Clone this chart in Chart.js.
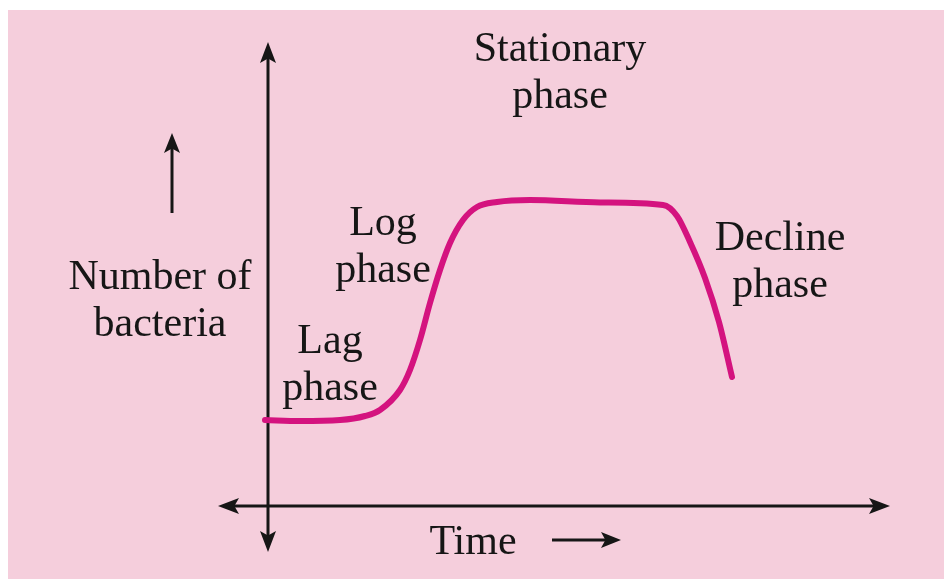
<!DOCTYPE html>
<html>
<head>
<meta charset="utf-8">
<script src="https://cdn.jsdelivr.net/npm/chart.js@4.4.1/dist/chart.umd.min.js"></script>
<style>
  html, body { margin: 0; padding: 0; background: #ffffff; }
  #wrap { width: 944px; height: 579px; position: relative; }
  canvas { display: block; }
</style>
</head>
<body>
<div id="wrap"><canvas id="c" width="944" height="579"></canvas></div>
<script>
// ---- Data (arbitrary units: time vs. number of bacteria) ----
const timeValues = [-0.3, 3.2, 7.2, 9.7, 11.2, 13.2, 14.2, 15.2, 16.2, 17.2, 18.2, 19.5, 20.9, 22.9, 26.2, 33.2, 39.5, 40.9, 42.2, 43.7, 45.1, 46.4];
const bacteriaValues = [8.6, 8.5, 8.6, 9.0, 9.6, 11.6, 13.6, 16.6, 20.3, 23.6, 26.3, 28.6, 29.9, 30.4, 30.6, 30.35, 30.1, 29.0, 26.4, 22.8, 18.4, 12.9];
const phaseLabels = [["Stationary", "phase"], ["Log", "phase"], ["Lag", "phase"], ["Decline", "phase"]];
const axisTitleY = ["Number of", "bacteria"];
const axisTitleX = "Time";

// ---- Layout (pixel positions for annotation text) ----
const phasePos = [[560, 50], [383, 224], [330, 342], [780, 239]];
const yTitlePos = [160, 278];
const xTitlePos = [473, 543];
const LINE_GAP = 47;
const FONT = '42px "Liberation Serif", "DejaVu Serif", serif';
const INK = '#161616';

const points = timeValues.map((t, i) => ({ x: t, y: bacteriaValues[i] }));

function arrowHead(ctx, tipX, tipY, dx, dy, len, half) {
  const bx = tipX - dx * len, by = tipY - dy * len;
  const nx = -dy, ny = dx;
  const mx = tipX - dx * len * 0.78, my = tipY - dy * len * 0.78;
  ctx.beginPath();
  ctx.moveTo(tipX, tipY);
  ctx.lineTo(bx + nx * half, by + ny * half);
  ctx.lineTo(mx, my);
  ctx.lineTo(bx - nx * half, by - ny * half);
  ctx.closePath();
  ctx.fill();
}

const decor = {
  id: 'decor',
  beforeDraw(chart) {
    const ctx = chart.ctx;
    ctx.save();
    ctx.fillStyle = '#ffffff';
    ctx.fillRect(0, 0, chart.width, chart.height);
    ctx.fillStyle = '#f5cedc';
    ctx.fillRect(8, 10, chart.width - 8, chart.height - 10);
    ctx.restore();

    const xs = chart.scales.x, ys = chart.scales.y;
    const ox = xs.getPixelForValue(0), oy = ys.getPixelForValue(0);
    ctx.save();
    ctx.strokeStyle = INK; ctx.fillStyle = INK; ctx.lineWidth = 3;
    // vertical axis
    ctx.beginPath(); ctx.moveTo(ox, 56); ctx.lineTo(ox, 538); ctx.stroke();
    arrowHead(ctx, ox, 42, 0, -1, 21, 8);
    arrowHead(ctx, ox, 552, 0, 1, 21, 8);
    // horizontal axis
    ctx.beginPath(); ctx.moveTo(232, oy); ctx.lineTo(876, oy); ctx.stroke();
    arrowHead(ctx, 218, oy, -1, 0, 21, 8);
    arrowHead(ctx, 890, oy, 1, 0, 21, 8);
    // small direction arrows
    ctx.beginPath(); ctx.moveTo(172, 213); ctx.lineTo(172, 146); ctx.stroke();
    arrowHead(ctx, 172, 133, 0, -1, 20, 8);
    ctx.beginPath(); ctx.moveTo(552, 540); ctx.lineTo(608, 540); ctx.stroke();
    arrowHead(ctx, 621, 540, 1, 0, 20, 8);
    ctx.restore();
  },
  afterDraw(chart) {
    const ctx = chart.ctx;
    ctx.save();
    ctx.fillStyle = INK;
    ctx.font = FONT;
    ctx.textAlign = 'center';
    ctx.textBaseline = 'middle';
    phaseLabels.forEach((lines, i) => {
      lines.forEach((s, j) => ctx.fillText(s, phasePos[i][0], phasePos[i][1] + j * LINE_GAP));
    });
    axisTitleY.forEach((s, j) => ctx.fillText(s, yTitlePos[0], yTitlePos[1] + j * LINE_GAP));
    ctx.fillText(axisTitleX, xTitlePos[0], xTitlePos[1]);
    ctx.restore();
  }
};

new Chart(document.getElementById('c'), {
  type: 'line',
  data: {
    datasets: [{
      data: points,
      borderColor: '#d4137f',
      borderWidth: 6,
      borderCapStyle: 'round',
      borderJoinStyle: 'round',
      pointRadius: 0,
      cubicInterpolationMode: 'monotone',
      fill: false
    }]
  },
  options: {
    responsive: false,
    animation: false,
    layout: { padding: 0 },
    plugins: { legend: { display: false }, tooltip: { enabled: false } },
    scales: {
      x: { type: 'linear', min: -26.8, max: 67.6, display: false },
      y: { type: 'linear', min: -7.3, max: 50.6, display: false }
    }
  },
  plugins: [decor]
});
</script>
</body>
</html>
